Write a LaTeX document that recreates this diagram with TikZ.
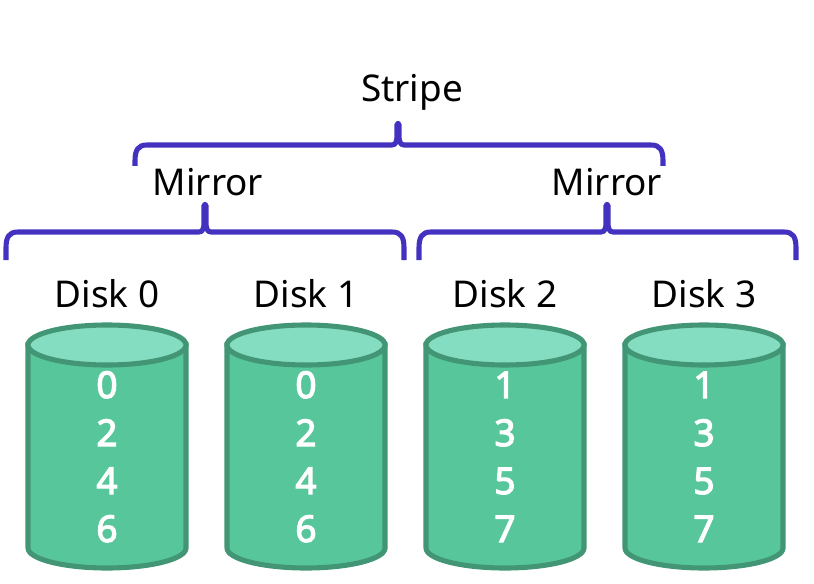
\documentclass[tikz,border=0pt]{standalone}
\usepackage{fontspec}
\setmainfont{Noto Sans}
\newfontfamily\blockfont[FakeBold=3.2]{Noto Sans}
\definecolor{diskfill}{HTML}{57C79B}
\definecolor{disktop}{HTML}{84DDC1}
\definecolor{diskline}{HTML}{429675}
\definecolor{bracecol}{HTML}{4332C0}
\tikzset{
  disklabel/.style={font=\fontsize{21}{25}\selectfont, text=black, inner sep=0pt, anchor=base},
  blocknum/.style={font=\blockfont\fontsize{21}{25}\selectfont, text=white, inner sep=0pt, anchor=base},
  diskedge/.style={draw=diskline, line width=2.9pt},
  bracket/.style={draw=bracecol, line width=2.9pt, line join=round},
}
% left end, tip x, right end, bar y, tip y, foot y
\newcommand{\spanbrace}[6]{
  \draw[bracket] (#1,#6) -- (#1,#4+16) .. controls (#1,#4+5) and (#1+3,#4) .. (#1+12,#4)
    -- (#2-6,#4) .. controls (#2-2,#4) and (#2-1,#4-4) .. (#2-1,#4-10) -- (#2-1,#5);
  \draw[bracket] (#3,#6) -- (#3,#4+16) .. controls (#3,#4+5) and (#3-3,#4) .. (#3-12,#4)
    -- (#2+6,#4) .. controls (#2+2,#4) and (#2+1,#4-4) .. (#2+1,#4-10) -- (#2+1,#5);
  \fill[bracecol] (#2,#5) circle (1.8pt);
}
\begin{document}
\begin{tikzpicture}[x=0.02cm, y=-0.02cm]
  \useasboundingbox (0,0) rectangle (814,584);

  % Disks
  \foreach \cx/\name/\ca/\cb/\cc/\cd in {107/0/0/2/4/6, 306/1/0/2/4/6, 505/2/1/3/5/7, 704/3/1/3/5/7} {
    \draw[diskedge, fill=diskfill] (\cx-79,345) -- (\cx-79,548) arc[start angle=180, end angle=360, x radius=79, y radius=-20]
      -- (\cx+79,345) -- cycle;
    \draw[diskedge, fill=disktop] (\cx,345) ellipse[x radius=79, y radius=-20];
    \node[disklabel] (label\name) at (\cx,307) {Disk \name};
    \node[blocknum] (block\name a) at (\cx,398) {\ca};
    \node[blocknum] (block\name b) at (\cx,446) {\cb};
    \node[blocknum] (block\name c) at (\cx,494) {\cc};
    \node[blocknum] (block\name d) at (\cx,542) {\cd};
  }

  % Mirror pairs
  \node[disklabel] (mirrorL) at (208,195) {Mirror};
  \node[disklabel] (mirrorR) at (607,195) {Mirror};
  \spanbrace{6}{205}{404}{232}{205}{260}
  \spanbrace{419}{607}{796}{232}{205}{260}

  % Stripe
  \node[disklabel] (stripe) at (412,102) {Stripe};
  \spanbrace{135}{398}{663}{145}{124}{166}
\end{tikzpicture}
\end{document}
